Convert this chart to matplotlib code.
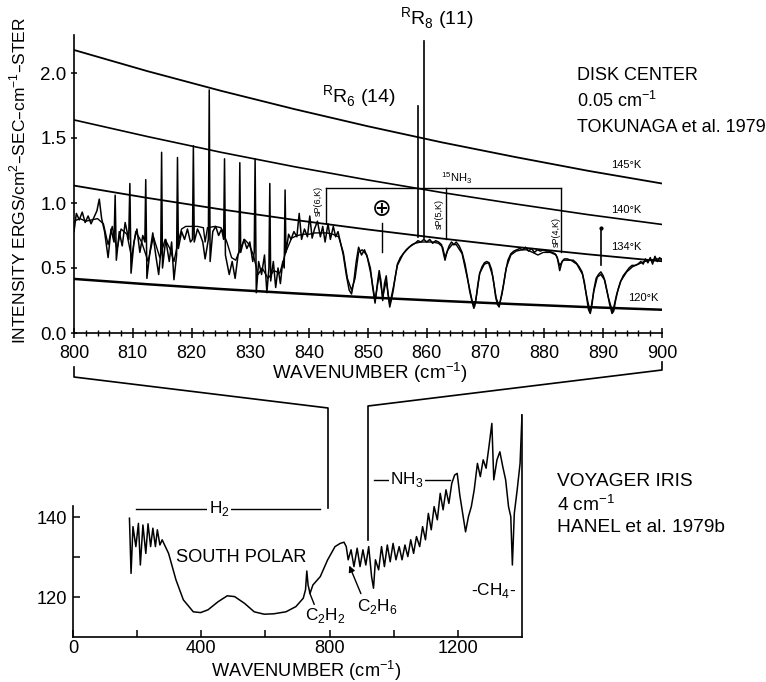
import matplotlib
matplotlib.use('Agg')
import matplotlib.pyplot as plt
from matplotlib.lines import Line2D
from matplotlib import font_manager

# ---------------- data: upper panel (Tokunaga, disk center) ----------------
planck_x = [800, 812.5, 825, 837.5, 850, 862.5, 875, 887.5, 900]
t145 = [2.177, 2.014, 1.863, 1.722, 1.590, 1.467, 1.354, 1.247, 1.150]
t140 = [1.639, 1.511, 1.390, 1.279, 1.177, 1.081, 0.993, 0.910, 0.835]
t134 = [1.134, 1.039, 0.951, 0.870, 0.796, 0.727, 0.663, 0.605, 0.552]
t120 = [0.416, 0.375, 0.338, 0.305, 0.274, 0.247, 0.222, 0.199, 0.179]
temp_labels = ['145°K', '140°K', '134°K', '120°K']

obs_x = [800.0, 800.4, 800.9, 801.4, 801.9, 802.4, 802.9, 803.4, 803.9, 804.3, 804.7, 805.2, 805.8, 806.3,
         806.8, 807.0, 807.2, 807.7, 808.2, 808.7, 809.3, 809.5, 809.7, 810.2, 810.7, 811.2, 811.7, 812.05,
         812.2, 812.4, 812.9, 813.4, 813.9, 814.4, 814.75, 814.9, 815.05, 815.6, 816.2, 816.6, 817.0, 817.45,
         817.6, 817.75, 818.3, 818.8, 819.3, 819.8, 820.15, 820.3, 820.45, 821.0, 821.5, 821.9, 822.3, 822.85,
         823.0, 823.15, 823.6, 824.1, 824.6, 825.1, 825.45, 825.6, 825.75, 826.4, 826.9, 827.4, 827.9, 828.05,
         828.2, 828.35, 828.9, 829.4, 829.9, 830.4, 830.65, 830.8, 831.0, 831.4, 831.9, 832.4, 832.8, 833.15,
         833.3, 833.45, 833.9, 834.3, 834.7, 835.1, 835.5, 835.75, 835.9, 836.05, 836.5, 836.9, 837.4, 837.9,
         838.3, 838.7, 839.2, 839.7, 840.1, 840.5, 840.9, 841.4, 841.9, 842.3, 842.7, 843.2, 843.6, 844.1,
         844.5, 844.9, 845.3, 845.8, 846.3, 846.8, 847.2, 847.6, 848.0, 848.4, 848.9, 849.4, 849.9, 850.4,
         850.8, 851.2, 851.6, 851.9, 852.2, 852.5, 852.8, 853.1, 853.4, 853.7, 854.0, 854.3, 854.7, 855.0,
         855.5, 856.0, 856.5, 857.0, 857.5, 858.0, 858.5, 859.0, 859.5, 860.0, 860.5, 861.0, 861.5, 862.0,
         862.5, 862.8, 863.1, 863.4, 863.8, 864.2, 864.6, 865.0, 865.5, 866.0, 866.5, 866.9, 867.3, 867.7,
         868.0, 868.3, 868.7, 869.0, 869.4, 869.8, 870.2, 870.6, 871.0, 871.4, 871.7, 872.0, 872.3, 872.6,
         873.0, 873.4, 873.8, 874.3, 874.8, 875.3, 875.8, 876.3, 876.8, 877.3, 877.8, 878.3, 878.8, 879.3,
         879.8, 880.3, 880.8, 881.3, 881.8, 882.2, 882.6, 883.0, 883.4, 883.9, 884.4, 884.9, 885.4, 885.9,
         886.4, 886.8, 887.2, 887.5, 887.8, 888.1, 888.4, 888.8, 889.2, 889.6, 890.0, 890.3, 890.7, 891.1,
         891.5, 891.8, 892.1, 892.5, 892.9, 893.4, 893.9, 894.4, 894.9, 895.4, 895.9, 896.4, 896.8, 897.2,
         897.6, 898.0, 898.4, 898.8, 899.2, 899.6, 900.0]
obs_y = [0.78, 0.92, 0.87, 0.93, 0.85, 0.90, 0.84, 0.89, 0.94, 1.03, 0.88, 0.78, 0.58, 0.80,
         0.70, 1.06, 0.56, 0.78, 0.67, 0.85, 0.72, 1.15, 0.46, 0.70, 0.80, 0.62, 0.75, 0.70,
         1.18, 0.42, 0.62, 0.77, 0.60, 0.45, 0.62, 1.39, 0.50, 0.72, 0.55, 0.70, 0.41, 0.60,
         1.35, 0.65, 0.78, 0.72, 0.80, 0.70, 0.72, 1.44, 0.70, 0.80, 0.75, 0.70, 0.57, 0.72,
         1.87, 0.55, 0.78, 0.82, 0.75, 0.80, 0.72, 1.34, 0.60, 0.45, 0.55, 0.42, 0.60, 0.62,
         1.31, 0.62, 0.72, 0.65, 0.70, 0.55, 0.62, 1.34, 0.31, 0.55, 0.45, 0.60, 0.31, 0.50,
         1.15, 0.40, 0.55, 0.35, 0.50, 0.38, 0.55, 0.50, 1.10, 0.62, 0.76, 0.72, 0.78, 0.74,
         0.92, 0.72, 0.80, 0.74, 0.90, 0.73, 0.80, 0.86, 0.74, 0.82, 0.70, 0.84, 0.72, 0.82,
         0.74, 0.78, 0.70, 0.60, 0.45, 0.33, 0.30, 0.40, 0.55, 0.66, 0.60, 0.64, 0.58, 0.50,
         0.35, 0.23, 0.38, 0.48, 0.40, 0.25, 0.38, 0.44, 0.30, 0.20, 0.26, 0.33, 0.45, 0.53,
         0.58, 0.61, 0.64, 0.66, 0.68, 0.69, 0.71, 0.70, 0.72, 0.70, 0.72, 0.69, 0.71, 0.70,
         0.68, 0.62, 0.56, 0.62, 0.67, 0.70, 0.68, 0.70, 0.67, 0.62, 0.53, 0.43, 0.32, 0.24,
         0.19, 0.24, 0.38, 0.46, 0.51, 0.54, 0.55, 0.54, 0.49, 0.38, 0.28, 0.22, 0.20, 0.27,
         0.36, 0.47, 0.56, 0.61, 0.63, 0.64, 0.65, 0.64, 0.66, 0.63, 0.65, 0.62, 0.64, 0.63,
         0.64, 0.63, 0.63, 0.62, 0.61, 0.58, 0.48, 0.55, 0.57, 0.57, 0.56, 0.56, 0.54, 0.51,
         0.47, 0.39, 0.27, 0.18, 0.15, 0.22, 0.33, 0.42, 0.45, 0.47, 0.44, 0.40, 0.31, 0.22,
         0.15, 0.17, 0.25, 0.33, 0.39, 0.44, 0.47, 0.50, 0.52, 0.52, 0.53, 0.55, 0.53, 0.57,
         0.54, 0.58, 0.53, 0.59, 0.55, 0.58, 0.56]

mod_x = [800, 801, 802, 803, 804, 805, 805.8, 806.5, 807.3, 808, 809, 809.8, 810.5, 811.5, 812.6, 813.5,
         814.6, 815.5, 816.3, 817, 817.6, 818.3, 819, 820, 821, 822, 822.3, 822.7, 824, 825, 826, 826.8,
         827.5, 828.3, 829, 829.8, 830.5, 831.3, 832, 833, 834, 835, 836, 837, 838, 839, 840, 841, 842,
         843, 844, 845, 845.8, 846.5, 847.2, 847.8, 848.4, 849, 849.8, 850.5, 851.2, 851.9, 852.5, 853.1,
         853.7, 854.3, 855, 856, 857, 858, 859, 860, 861, 862, 862.7, 863.1, 863.6, 864.3, 865, 866, 867,
         867.7, 868.1, 868.5, 869, 869.8, 870.5, 871.2, 871.8, 872.3, 872.8, 873.5, 874.3, 875.2, 876.2,
         877, 878, 878.9, 879.8, 881, 882, 882.6, 883.2, 884.5, 885.5, 886.5, 887.2, 887.8, 888.4, 889,
         889.6, 890.2, 890.9, 891.6, 892.3, 893, 894, 895, 896, 897, 898, 899, 900]
mod_y = [0.86, 0.88, 0.86, 0.87, 0.88, 0.84, 0.68, 0.82, 0.64, 0.80, 0.76, 0.58, 0.78, 0.70, 0.55, 0.74,
         0.58, 0.72, 0.65, 0.55, 0.68, 0.80, 0.82, 0.82, 0.82, 0.81, 0.70, 0.81, 0.82, 0.81, 0.70, 0.58,
         0.56, 0.65, 0.72, 0.68, 0.60, 0.45, 0.50, 0.42, 0.48, 0.46, 0.62, 0.73, 0.75, 0.76, 0.76, 0.77, 0.77,
         0.77, 0.76, 0.74, 0.62, 0.42, 0.33, 0.42, 0.62, 0.64, 0.60, 0.45, 0.25, 0.45, 0.28, 0.40,
         0.22, 0.35, 0.52, 0.61, 0.66, 0.69, 0.70, 0.70, 0.70, 0.69, 0.66, 0.58, 0.64, 0.68, 0.68, 0.61, 0.40,
         0.25, 0.20, 0.30, 0.46, 0.53, 0.54, 0.44, 0.27, 0.21, 0.30, 0.50, 0.60, 0.63, 0.64,
         0.64, 0.62, 0.60, 0.62, 0.62, 0.60, 0.52, 0.56, 0.56, 0.53, 0.45, 0.28, 0.16, 0.32, 0.43,
         0.45, 0.41, 0.27, 0.16, 0.30, 0.40, 0.47, 0.51, 0.53, 0.55, 0.56, 0.57, 0.57]

# line identifications (positions in cm-1, intensity extents)
rr_x = [858.55, 859.5]
rr_top = [1.75, 2.25]
rr_bot = [0.74, 0.73]
sp_x = [842.9, 863.3, 882.8]
sp_bot = [0.85, 0.72, 0.62]
sp_top = 1.115
sp_names = ['sP(6,K)', 'sP(5,K)', 'sP(4,K)']
oplus_x, oplus_y = 852.3, [0.62, 0.85]
mark_x, mark_y = 889.6, [0.52, 0.81]

# ---------------- data: lower panel (Voyager IRIS) ----------------
low_x = [176, 181, 187, 196, 204, 210, 218, 227, 234, 242, 249, 257, 263, 271, 278, 298, 321, 344, 375,
         398, 421, 452, 481, 504, 535, 565, 596, 626, 664, 695, 718, 725, 729, 733, 739, 748, 771, 794,
         817, 833, 845, 852, 858, 867, 876, 886, 895, 904, 913, 922, 931, 937, 943, 953, 962, 971, 980,
         989, 998, 1007, 1017, 1026, 1035, 1044, 1053, 1062, 1071, 1081, 1090, 1099, 1108, 1117, 1126,
         1136, 1145, 1154, 1163, 1172, 1181, 1190, 1198, 1206, 1215, 1224, 1233, 1242, 1251, 1261, 1270,
         1279, 1288, 1297, 1306, 1312, 1322, 1331, 1340, 1349, 1358, 1365, 1370, 1376, 1385, 1394, 1400]
low_y = [139.7, 125.9, 137.6, 132.6, 138.4, 128.0, 138.0, 130.9, 138.3, 132.6, 137.2, 132.6, 136.8, 133.0,
         134.3, 130.9, 124.3, 119.3, 116.3, 116.1, 116.8, 118.8, 120.3, 120.1, 118.4, 116.3, 115.7, 115.8,
         116.3, 117.6, 119.7, 121.8, 126.5, 123.0, 120.9, 123.0, 125.1, 129.3, 132.6, 133.4, 133.7, 132.6,
         129.3, 131.8, 127.6, 132.2, 127.6, 131.8, 128.0, 132.6, 125.1, 122.2, 129.3, 126.8, 132.6, 127.6,
         133.0, 128.8, 133.4, 129.3, 132.6, 129.3, 133.0, 130.1, 134.3, 130.9, 135.1, 132.6, 137.6, 134.3,
         140.9, 136.8, 142.6, 139.3, 145.9, 141.8, 146.8, 143.4, 148.4, 150.5, 150.9, 145.5, 140.9, 136.3,
         140.1, 142.6, 146.8, 153.4, 150.1, 154.3, 152.2, 157.6, 163.4, 149.3, 154.3, 156.3, 152.6, 149.3,
         142.6, 140.1, 128.0, 140.9, 146.8, 153.4, 165.5]

# ---------------- figure ----------------
W, H = 766, 682
fig = plt.figure(figsize=(W / 100, H / 100), dpi=100)
fx = lambda px: px / W
fy = lambda py: 1 - py / H

avail = {f.name for f in font_manager.fontManager.ttflist}
if 'Liberation Sans Narrow' in avail:
    LOWF, ls = 'Liberation Sans Narrow', 1.0
else:
    LOWF, ls = 'Liberation Sans', 0.82
plt.rcParams['font.family'] = ['Liberation Sans', 'DejaVu Sans']

# ---- upper axes ----
ax = fig.add_axes([fx(74), fy(333), fx(662) - fx(74), fy(8) - fy(333)])
ax.set_xlim(800, 900)
ax.set_ylim(0, 2.5)
for s in ['top', 'right']:
    ax.spines[s].set_visible(False)
ax.spines['left'].set_bounds(0, 2.29)
ax.spines['left'].set_linewidth(1.2)
ax.spines['bottom'].set_linewidth(1.2)

for t, lw in zip([t145, t140, t134, t120], [1.3, 1.2, 1.3, 1.8]):
    ax.plot(planck_x, t, color='k', lw=lw)

ax.plot(mod_x, mod_y, color='k', lw=1.0)
ax.plot(obs_x, obs_y, color='k', lw=1.1)

for x, t, b in zip(rr_x, rr_top, rr_bot):
    ax.plot([x, x], [b, t], color='k', lw=1.2)
ax.plot([sp_x[0], sp_x[-1]], [sp_top, sp_top], color='k', lw=1.0)
for x, b in zip(sp_x, sp_bot):
    ax.plot([x, x], [b, sp_top], color='k', lw=1.0)
ax.plot([oplus_x, oplus_x], oplus_y, color='k', lw=1.0)
ax.plot([mark_x, mark_x], mark_y, color='k', lw=1.2)
ax.plot([mark_x], [mark_y[1]], 'k.', ms=4)

ax.set_xticks(range(800, 901, 10))
ax.set_xticks(range(800, 901, 2), minor=True)
ax.set_yticks([0, 0.5, 1.0, 1.5, 2.0])
ax.set_yticklabels(['0.0', '0.5', '1.0', '1.5', '2.0'])
ax.tick_params(axis='x', which='major', direction='inout', length=7, width=1.1, pad=5, labelsize=13)
ax.tick_params(axis='x', which='minor', direction='inout', length=4, width=1.0)
ax.tick_params(axis='y', which='major', direction='inout', length=5, width=1.1, pad=3, labelsize=13.5)

sm = 8
ax.text(893.9, 1.29, temp_labels[0], fontsize=sm, ha='center', va='center')
ax.text(893.9, 0.946, temp_labels[1], fontsize=sm, ha='center', va='center')
ax.text(893.9, 0.66, temp_labels[2], fontsize=sm, ha='center', va='center')
ax.text(896.8, 0.27, temp_labels[3], fontsize=sm, ha='center', va='center')
ax.text(865.0, 1.19, r'$^{\mathdefault{15}}$NH$_{\mathdefault{3}}$', fontsize=8, ha='center', va='center')
for x, y, name in zip([841.5, 862.1, 882.0], [1.015, 0.915, 0.777], sp_names):
    ax.text(x, y, name, fontsize=6.5, rotation=90, ha='center', va='center')
ax.text(852.4, 0.954, '⊕', family='DejaVu Sans', fontsize=17, ha='center', va='center')
ax.text(848.5, 1.815, r'$^{\mathdefault{R}}$R$_{\mathdefault{6}}$ (14)', fontsize=14, ha='center', va='center')
ax.text(861.7, 2.42, r'$^{\mathdefault{R}}$R$_{\mathdefault{8}}$ (11)', fontsize=14, ha='center', va='center')

fig.text(fx(18), fy(180), r'INTENSITY ERGS/cm$^{\mathdefault{2}}$–SEC–cm$^{\mathdefault{-1}}$–STER',
         rotation=90, fontsize=12.5, ha='center', va='center')
fig.text(fx(370), fy(373), r'WAVENUMBER (cm$^{\mathdefault{-1}}$)', fontsize=13.5, ha='center', va='center')
fig.text(fx(577), fy(75), 'DISK CENTER', fontsize=13, ha='left', va='center')
fig.text(fx(577), fy(101), r'0.05 cm$^{\mathdefault{-1}}$', fontsize=13, ha='left', va='center')
fig.text(fx(577), fy(128), 'TOKUNAGA et al. 1979', fontsize=13, ha='left', va='center')

# ---- lower axes ----
bx = fig.add_axes([fx(73), fy(637), fx(522) - fx(73), fy(409) - fy(637)])
bx.set_xlim(0, 1400)
bx.set_ylim(110, 167)
bx.patch.set_alpha(0)
bx.spines['top'].set_visible(False)
bx.spines['left'].set_bounds(110, 142.75)
bx.spines['right'].set_bounds(110, 165.5)
for s in ['left', 'right', 'bottom']:
    bx.spines[s].set_linewidth(1.2)
bx.plot(low_x, low_y, color='k', lw=1.1)

bx.set_xticks([0, 400, 800, 1200])
bx.set_xticks([200, 600, 1000], minor=True)
bx.set_yticks([120, 130, 140])
bx.set_yticklabels(['120', '', '140'])
lowfs = 16 * ls
bx.tick_params(axis='x', which='major', direction='in', length=5, width=1.1, pad=2, labelsize=lowfs)
bx.tick_params(axis='x', which='minor', direction='in', length=5, width=1.1)
bx.tick_params(axis='y', which='major', direction='in', length=5, width=1.1, pad=4, labelsize=lowfs)
for lab in bx.get_xticklabels() + bx.get_yticklabels():
    lab.set_family(LOWF)

bx.plot([197, 771], [142, 142], color='k', lw=1.0)
bx.text(455, 142, r'H$_{\mathdefault{2}}$', family=LOWF, fontsize=lowfs * 0.95, ha='center', va='center',
        bbox=dict(facecolor='white', edgecolor='none', pad=1))
bx.plot([939, 1175], [149.25, 149.25], color='k', lw=1.0)
bx.text(1041, 149.25, r'NH$_{\mathdefault{3}}$', family=LOWF, fontsize=lowfs * 0.95, ha='center', va='center',
        bbox=dict(facecolor='white', edgecolor='none', pad=1))
bx.text(524, 130, 'SOUTH POLAR', family=LOWF, fontsize=lowfs, ha='center', va='center')
bx.text(786, 115.3, r'C$_{\mathdefault{2}}$H$_{\mathdefault{2}}$', family=LOWF, fontsize=lowfs * 0.95,
        ha='center', va='center')
bx.plot([738, 752], [121.0, 118.2], color='k', lw=1.0)
bx.text(948, 117.5, r'C$_{\mathdefault{2}}$H$_{\mathdefault{6}}$', family=LOWF, fontsize=lowfs * 0.95,
        ha='center', va='center')
bx.annotate('', xy=(858, 128.5), xytext=(901, 120.2),
            arrowprops=dict(arrowstyle='-|>', color='k', lw=1.0, mutation_scale=9))
bx.text(1312, 121.75, r'-CH$_{\mathdefault{4}}$-', family=LOWF, fontsize=lowfs * 0.95, ha='center', va='center')

fig.text(fx(306), fy(671), r'WAVENUMBER (cm$^{\mathdefault{-1}}$)', family=LOWF, fontsize=lowfs,
         ha='center', va='center')
fig.text(fx(557), fy(482), 'VOYAGER IRIS', family=LOWF, fontsize=lowfs * 1.05, ha='left', va='center')
fig.text(fx(557), fy(505), r'4 cm$^{\mathdefault{-1}}$', family=LOWF, fontsize=lowfs * 1.05, ha='left', va='center')
fig.text(fx(557), fy(527), 'HANEL et al. 1979b', family=LOWF, fontsize=lowfs * 1.05, ha='left', va='center')

# ---- connectors between panels ----
fig.add_artist(Line2D([fx(74), fx(74), fx(328), fx(328)], [fy(367), fy(377), fy(408), fy(508)],
                      transform=fig.transFigure, color='k', lw=1.2))
fig.add_artist(Line2D([fx(662), fx(662), fx(368), fx(368)], [fy(362), fy(370), fy(406), fy(540)],
                      transform=fig.transFigure, color='k', lw=1.2))

fig.savefig('out.png', dpi=100)
